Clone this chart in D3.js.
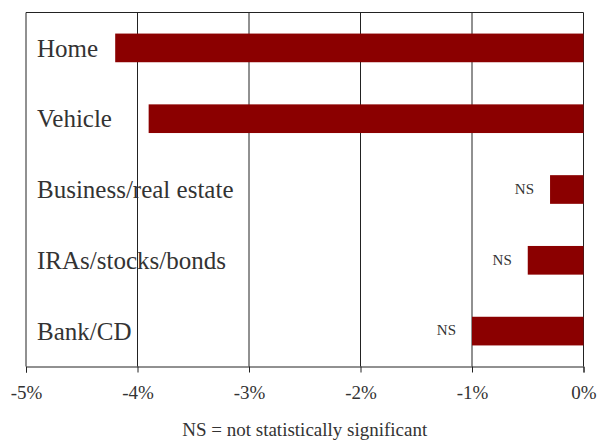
<!DOCTYPE html>
<html>
<head>
<meta charset="utf-8">
<script src="https://cdn.jsdelivr.net/npm/d3@7"></script>
<style>
  body { margin: 0; background: #fff; }
</style>
</head>
<body>
<div id="chart"></div>
<script>
// categories, top to bottom
var categories = ["Home", "Vehicle", "Business/real estate", "IRAs/stocks/bonds", "Bank/CD"];
// change, percent
var values = [-4.2, -3.9, -0.3, -0.5, -1.0];
// not statistically significant flags
var notSig = [false, false, true, true, true];
var ticks = [-5, -4, -3, -2, -1, 0];
var tickLabels = ["-5%", "-4%", "-3%", "-2%", "-1%", "0%"];
var note = "NS = not statistically significant";

var width = 599, height = 440;
var margin = {top: 12.5, right: 15.5, bottom: 73.5, left: 26};
var serif = "'Liberation Serif', 'DejaVu Serif', serif";
var ink = "#333";

var svg = d3.select("#chart").append("svg")
    .attr("width", width)
    .attr("height", height);

var x = d3.scaleLinear()
    .domain([-5, 0])
    .range([margin.left, width - margin.right]);

var y = d3.scaleBand()
    .domain(categories)
    .range([margin.top, height - margin.bottom])
    .paddingInner(0.595)
    .paddingOuter(0.2975);

// gridlines
svg.append("g")
  .selectAll("line")
  .data(ticks)
  .enter().append("line")
    .attr("x1", function(d) { return x(d); })
    .attr("x2", function(d) { return x(d); })
    .attr("y1", margin.top)
    .attr("y2", height - margin.bottom)
    .attr("stroke", "#222")
    .attr("stroke-width", 1);

// top border
svg.append("line")
    .attr("x1", x(-5)).attr("x2", x(0))
    .attr("y1", margin.top).attr("y2", margin.top)
    .attr("stroke", "#222");

// bars
svg.append("g")
  .selectAll("rect")
  .data(values)
  .enter().append("rect")
    .attr("x", function(d) { return x(d); })
    .attr("y", function(d, i) { return y(categories[i]); })
    .attr("width", function(d) { return x(0) - x(d); })
    .attr("height", y.bandwidth())
    .attr("fill", "#8b0000");

// category labels
svg.append("g")
  .selectAll("text")
  .data(categories)
  .enter().append("text")
    .attr("x", margin.left + 11)
    .attr("y", function(d) { return y(d) + y.bandwidth() / 2; })
    .attr("dy", "0.35em")
    .style("font-family", serif)
    .style("font-size", "25px")
    .style("fill", ink)
    .text(function(d) { return d; });

// NS labels
svg.append("g")
  .selectAll("text")
  .data(d3.range(values.length).filter(function(i) { return notSig[i]; }))
  .enter().append("text")
    .attr("x", function(i) { return x(values[i]) - 16; })
    .attr("y", function(i) { return y(categories[i]) + y.bandwidth() / 2 - 1; })
    .attr("dy", "0.35em")
    .attr("text-anchor", "end")
    .style("font-family", serif)
    .style("font-size", "15px")
    .style("fill", ink)
    .text("NS");

// x axis
var xAxis = d3.axisBottom(x)
    .tickValues(ticks)
    .tickSize(6)
    .tickPadding(13)
    .tickFormat(function(d, i) { return tickLabels[i]; });

var gx = svg.append("g")
    .attr("transform", "translate(0," + (height - margin.bottom) + ")")
    .call(xAxis);
gx.select(".domain").attr("stroke", "#222");
gx.selectAll(".tick line").attr("stroke", "#222");
gx.selectAll(".tick text")
    .style("font-family", serif)
    .style("font-size", "19px")
    .style("fill", ink);

// footnote
svg.append("text")
    .attr("x", (x(-5) + x(0)) / 2)
    .attr("y", 436)
    .attr("text-anchor", "middle")
    .style("font-family", serif)
    .style("font-size", "19px")
    .style("fill", ink)
    .text(note);
</script>
</body>
</html>
